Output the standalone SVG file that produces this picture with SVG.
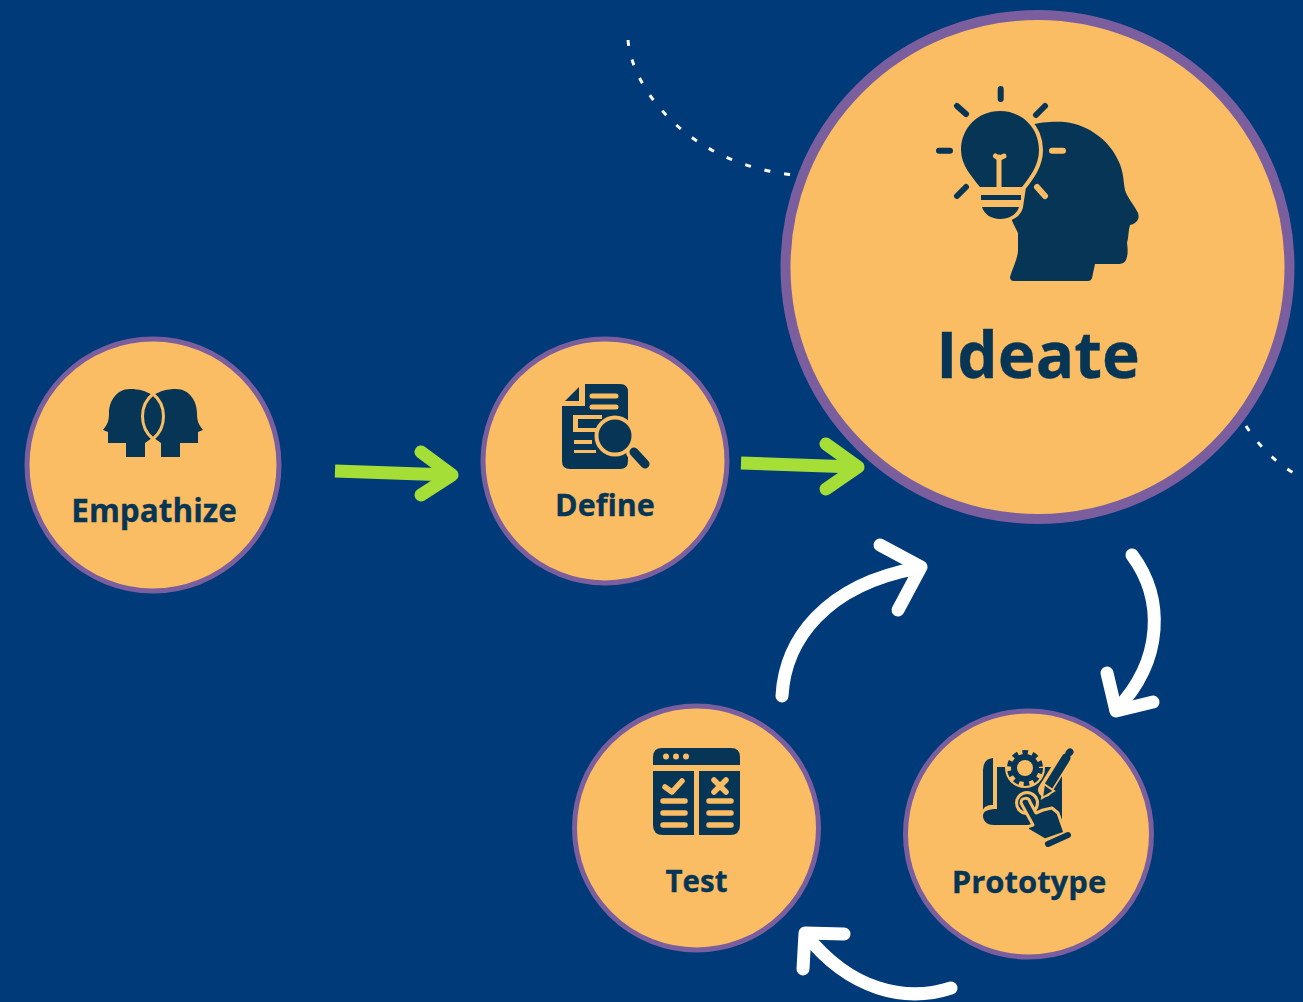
<svg xmlns="http://www.w3.org/2000/svg" width="1303" height="1002" viewBox="0 0 1303 1002">
<style>
.node{fill:#FBBD63;stroke:#7B5E9E}
.ic{fill:#063556}
.o{fill:#FBBD63}
.ol{fill:none;stroke:#FBBD63;stroke-linecap:round;stroke-linejoin:round}
.nl{fill:none;stroke:#063556;stroke-linecap:round;stroke-linejoin:round}
.lab{font-family:"Open Sans","Noto Sans",sans-serif;font-weight:700;fill:#063556;stroke:#063556;stroke-width:.3;text-anchor:middle}
.g{fill:none;stroke:#A5DE37;stroke-width:13;stroke-linejoin:round}
.gh{fill:none;stroke:#A5DE37;stroke-width:13;stroke-linecap:round;stroke-linejoin:round}
.w{fill:none;stroke:#fff;stroke-width:13;stroke-linecap:round;stroke-linejoin:round}
.d{fill:none;stroke:#fff;stroke-width:3;stroke-dasharray:6 14}
</style>
<rect width="1303" height="1002" fill="#013A79"/>
<g id="connectors">
<path class="d" d="M628 40C632 90 690 165 795 175"/>
<path class="d" d="M1246 426C1260 448 1280 467 1303 478"/>
<path class="g" d="M335 471L450 475"/>
<path class="gh" d="M421 452L452 475L421 495"/>
<path class="g" d="M741 463L855 467"/>
<path class="gh" d="M826 444L858 467L826 489"/>
<path class="w" d="M782 696C785 640 825 585 918 568"/>
<path class="w" d="M880 545L921 567L898 610"/>
<path class="w" d="M1132 555C1164 598 1164 660 1116 710"/>
<path class="w" d="M1107 673L1116 711L1153 702"/>
<path class="w" d="M951 988C905 1003 850 990 806 935"/>
<path class="w" d="M803 969L805 933L844 934"/>
</g>
<g id="empathize">
<circle class="node" cx="153" cy="465" r="126" stroke-width="5"/>
<path class="ic" d="M130 389C116 389 109 402 109 413C109 420 108 424 103 430L108 432V443H126V457H145V443L152 438V395C146 391 139 389 130 389Z"/>
<path class="ic" d="M176 389C190 389 197 402 197 413C197 420 198 424 203 430L198 432V443H180V457H161V443L154 438V395C160 391 167 389 176 389Z"/>
<path class="ic" stroke="#FBBD63" stroke-width="3" d="M153 394C139 405 139 427 153 439C167 427 167 405 153 394Z"/>
<text class="lab" x="154" y="522" font-size="31.500">Empathize</text>
</g>
<g id="define">
<circle class="node" cx="605" cy="461" r="122" stroke-width="5"/>
<path class="ic" d="M585 384H620Q628 384 628 392V461Q628 469 620 469H570Q562 469 562 461V406H585Z"/>
<path class="ic" d="M579 387V401H565Z"/>
<path class="ol" stroke-width="5" d="M592 396H616M592 407H616"/>
<path class="o" d="M573 415H602V419H578V428H596V432H573Z"/>
<path class="o" d="M574 440H592V444H574ZM574 450H596V453H574Z"/>
<circle class="ic" stroke="#FBBD63" stroke-width="4" cx="615" cy="436" r="18.500"/>
<path fill="none" stroke="#FBBD63" stroke-width="16" stroke-linecap="round" d="M634 452L645 464"/>
<path class="nl" stroke-width="9" d="M634 452L645 464"/>
<text class="lab" x="605" y="516" font-size="30.500">Define</text>
</g>
<g id="ideate">
<circle class="node" cx="1037.500" cy="267" r="252" stroke-width="10"/>
<path class="ic" d="M1030 125C1040 122 1055 121 1065 122C1090 125 1110 142 1118 160C1124 172 1123 180 1125 190C1127 197 1134 205 1138 213C1140 219 1137 223 1130 225C1128 232 1129 236 1127 243C1128 250 1128 255 1126 260C1124 264 1120 264 1117 264H1095L1092 278Q1091 281 1088 281H1014Q1010 281 1010 277C1013 267 1018 258 1018 250V233L1013 223L1000 190Z"/>
<path fill="#FBBD63" stroke="#FBBD63" stroke-width="8" stroke-linejoin="round" d="M1000 111C978 111 961 128 961 150C961 165 972 177 980 187V207C982 214 990 218 1000 218C1010 218 1017 214 1019 207L1022 187C1030 177 1039 165 1039 150C1039 128 1022 111 1000 111Z"/>
<path class="ic" d="M1000 111C978 111 961 128 961 150C961 165 972 177 980 187H1022C1030 177 1039 165 1039 150C1039 128 1022 111 1000 111Z"/>
<rect class="ic" x="981" y="195" width="40" height="5"/>
<path class="ic" d="M982 207H1019C1017 214 1010 219 1000 219C991 219 984 214 982 207Z"/>
<path class="ol" stroke-width="5" d="M999 187V157M995.500 156L999 158.500L1004 156"/>
<path class="nl" stroke-width="6" d="M1000.700 89V99M957 106L966 114M1045 106L1036 115M939 150.700H950M966 187L957 196"/>
<path class="ol" stroke-width="6" d="M1052 150.700H1063M1037 187L1045 196"/>
<text class="lab" x="1038" y="378" font-size="64">Ideate</text>
</g>
<g id="test">
<circle class="node" cx="696.500" cy="828" r="122" stroke-width="5"/>
<path class="ic" d="M653 765V757Q653 748 662 748H731Q740 748 740 757V765Z"/>
<path class="ic" d="M653 771H694V835H663Q653 835 653 825Z"/>
<path class="ic" d="M699 771H740V825Q740 835 730 835H699Z"/>
<circle class="o" cx="666" cy="756.500" r="3"/><circle class="o" cx="676" cy="756.500" r="3"/><circle class="o" cx="686" cy="756.500" r="3"/>
<path class="ol" stroke-width="5.500" d="M665 787L672 792L682 781M714 780L726 792M726 780L714 792"/>
<path class="ol" stroke-width="5.500" d="M663 801H685M663 813H685M663 825H685M709 801H731M709 813H731M709 825H731"/>
<text class="lab" x="696.500" y="892" font-size="29.500">Test</text>
</g>
<g id="prototype">
<circle class="node" cx="1028.500" cy="834" r="123" stroke-width="5"/>
<path class="ic" d="M983 770Q983 759 993 758V805C987 805 984 807 983 810Z"/>
<path class="ic" d="M997 767H1062V825H994C986 825 983 820 983 816C983 811 988 809 997 809Z"/>
<circle fill="#FBBD63" cx="1025" cy="768" r="20"/>
<circle fill="none" stroke="#063556" stroke-width="5" stroke-dasharray="5.500 4.500" cx="1025" cy="768" r="15.500"/>
<circle fill="none" stroke="#063556" stroke-width="6" cx="1025" cy="768" r="11"/>
<path class="ol" stroke-width="14" stroke-linecap="butt" d="M1045 790L1065 758"/>
<path class="nl" stroke-width="9" stroke-linecap="butt" d="M1048 787L1066 758"/>
<path class="nl" stroke-width="7" d="M1069 753L1070 752"/>
<path class="ic" stroke="#FBBD63" stroke-width="2" d="M1044 784L1054 791L1042 798Z"/>
<circle fill="none" stroke="#FBBD63" stroke-width="3" cx="1027" cy="803" r="10.500"/>
<path class="ic" stroke="#FBBD63" stroke-width="3" stroke-linejoin="round" d="M1021 803C1021 797 1029 797 1030 802L1036 813L1043 810L1052 808L1058 813L1065 833L1045 840L1028 830L1027 827L1033 825Z"/>
<path class="nl" stroke-width="6" stroke-linecap="butt" d="M1048 844L1068 835"/>
<text class="lab" x="1029" y="893" font-size="31">Prototype</text>
</g>
</svg>
